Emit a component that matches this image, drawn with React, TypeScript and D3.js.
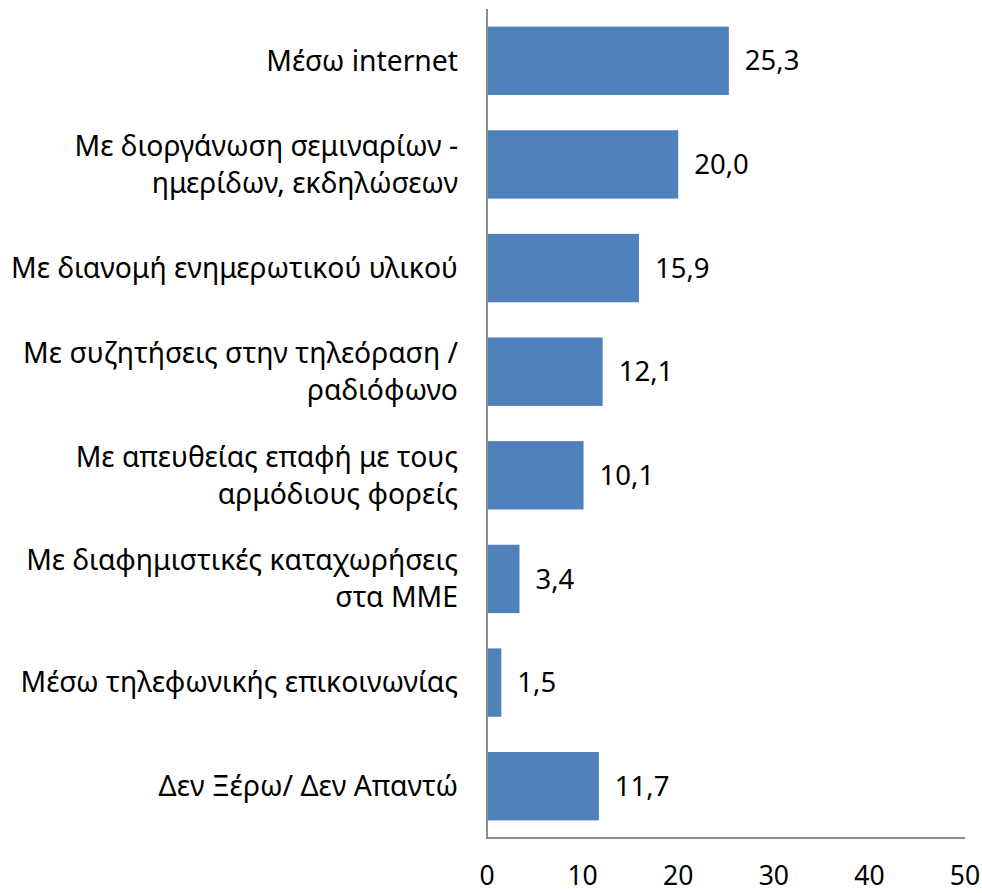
import React from "react";
import * as d3 from "d3";

const categories: string[][] = [
  ["Μέσω internet"],
  ["Με διοργάνωση σεμιναρίων -", "ημερίδων, εκδηλώσεων"],
  ["Με διανομή ενημερωτικού υλικού"],
  ["Με συζητήσεις στην τηλεόραση /", "ραδιόφωνο"],
  ["Με απευθείας επαφή με τους", "αρμόδιους φορείς"],
  ["Με διαφημιστικές καταχωρήσεις", "στα ΜΜΕ"],
  ["Μέσω τηλεφωνικής επικοινωνίας"],
  ["Δεν Ξέρω/ Δεν Απαντώ"],
];
const values: number[] = [25.3, 20.0, 15.9, 12.1, 10.1, 3.4, 1.5, 11.7];
const ticks: number[] = [0, 10, 20, 30, 40, 50];

const W = 982;
const H = 893;
const FONT = "'Noto Sans', sans-serif";

export default function App() {
  const x = d3.scaleLinear().domain([0, 50]).range([487, 965]);
  const y = d3
    .scaleBand<number>()
    .domain(d3.range(categories.length))
    .range([9, 838])
    .paddingInner(0.34)
    .paddingOuter(0.17);
  const fmt = (v: number) => v.toFixed(1).replace(".", ",");
  const lineH = 37;
  return (
    <svg
      width={W}
      height={H}
      style={{ position: "absolute", left: 0, top: 0 }}
      fontFamily={FONT}
    >
      <rect width={W} height={H} fill="#fff" />
      {values.map((v, i) => (
        <rect
          key={"b" + i}
          x={x(0)}
          y={y(i)!}
          width={x(v) - x(0)}
          height={y.bandwidth()}
          fill="#4F81BD"
        />
      ))}
      <line x1={x(0)} x2={x(0)} y1={9} y2={838} stroke="#8C8C8C" strokeWidth={2} />
      <line x1={x(0) - 1} x2={x(50)} y1={838} y2={838} stroke="#8C8C8C" strokeWidth={2} />
      {values.map((v, i) => (
        <text
          key={"v" + i}
          x={x(v) + 16}
          y={y(i)! + y.bandwidth() / 2}
          dy="0.35em"
          fontSize={27.5}
          fill="#000"
        >
          {fmt(v)}
        </text>
      ))}
      {categories.map((lines, i) => {
        const cy = y(i)! + y.bandwidth() / 2;
        const start = cy - ((lines.length - 1) * lineH) / 2;
        return (
          <text key={"c" + i} x={458} textAnchor="end" fontSize={28.3} fill="#000">
            {lines.map((l, j) => (
              <tspan key={j} x={458} y={start + j * lineH} dy="0.35em">
                {l}
              </tspan>
            ))}
          </text>
        );
      })}
      {ticks.map((t) => (
        <text
          key={"t" + t}
          x={x(t)}
          y={876}
          dy="0.35em"
          textAnchor="middle"
          fontSize={26.5}
          fill="#000"
        >
          {t}
        </text>
      ))}
    </svg>
  );
}
